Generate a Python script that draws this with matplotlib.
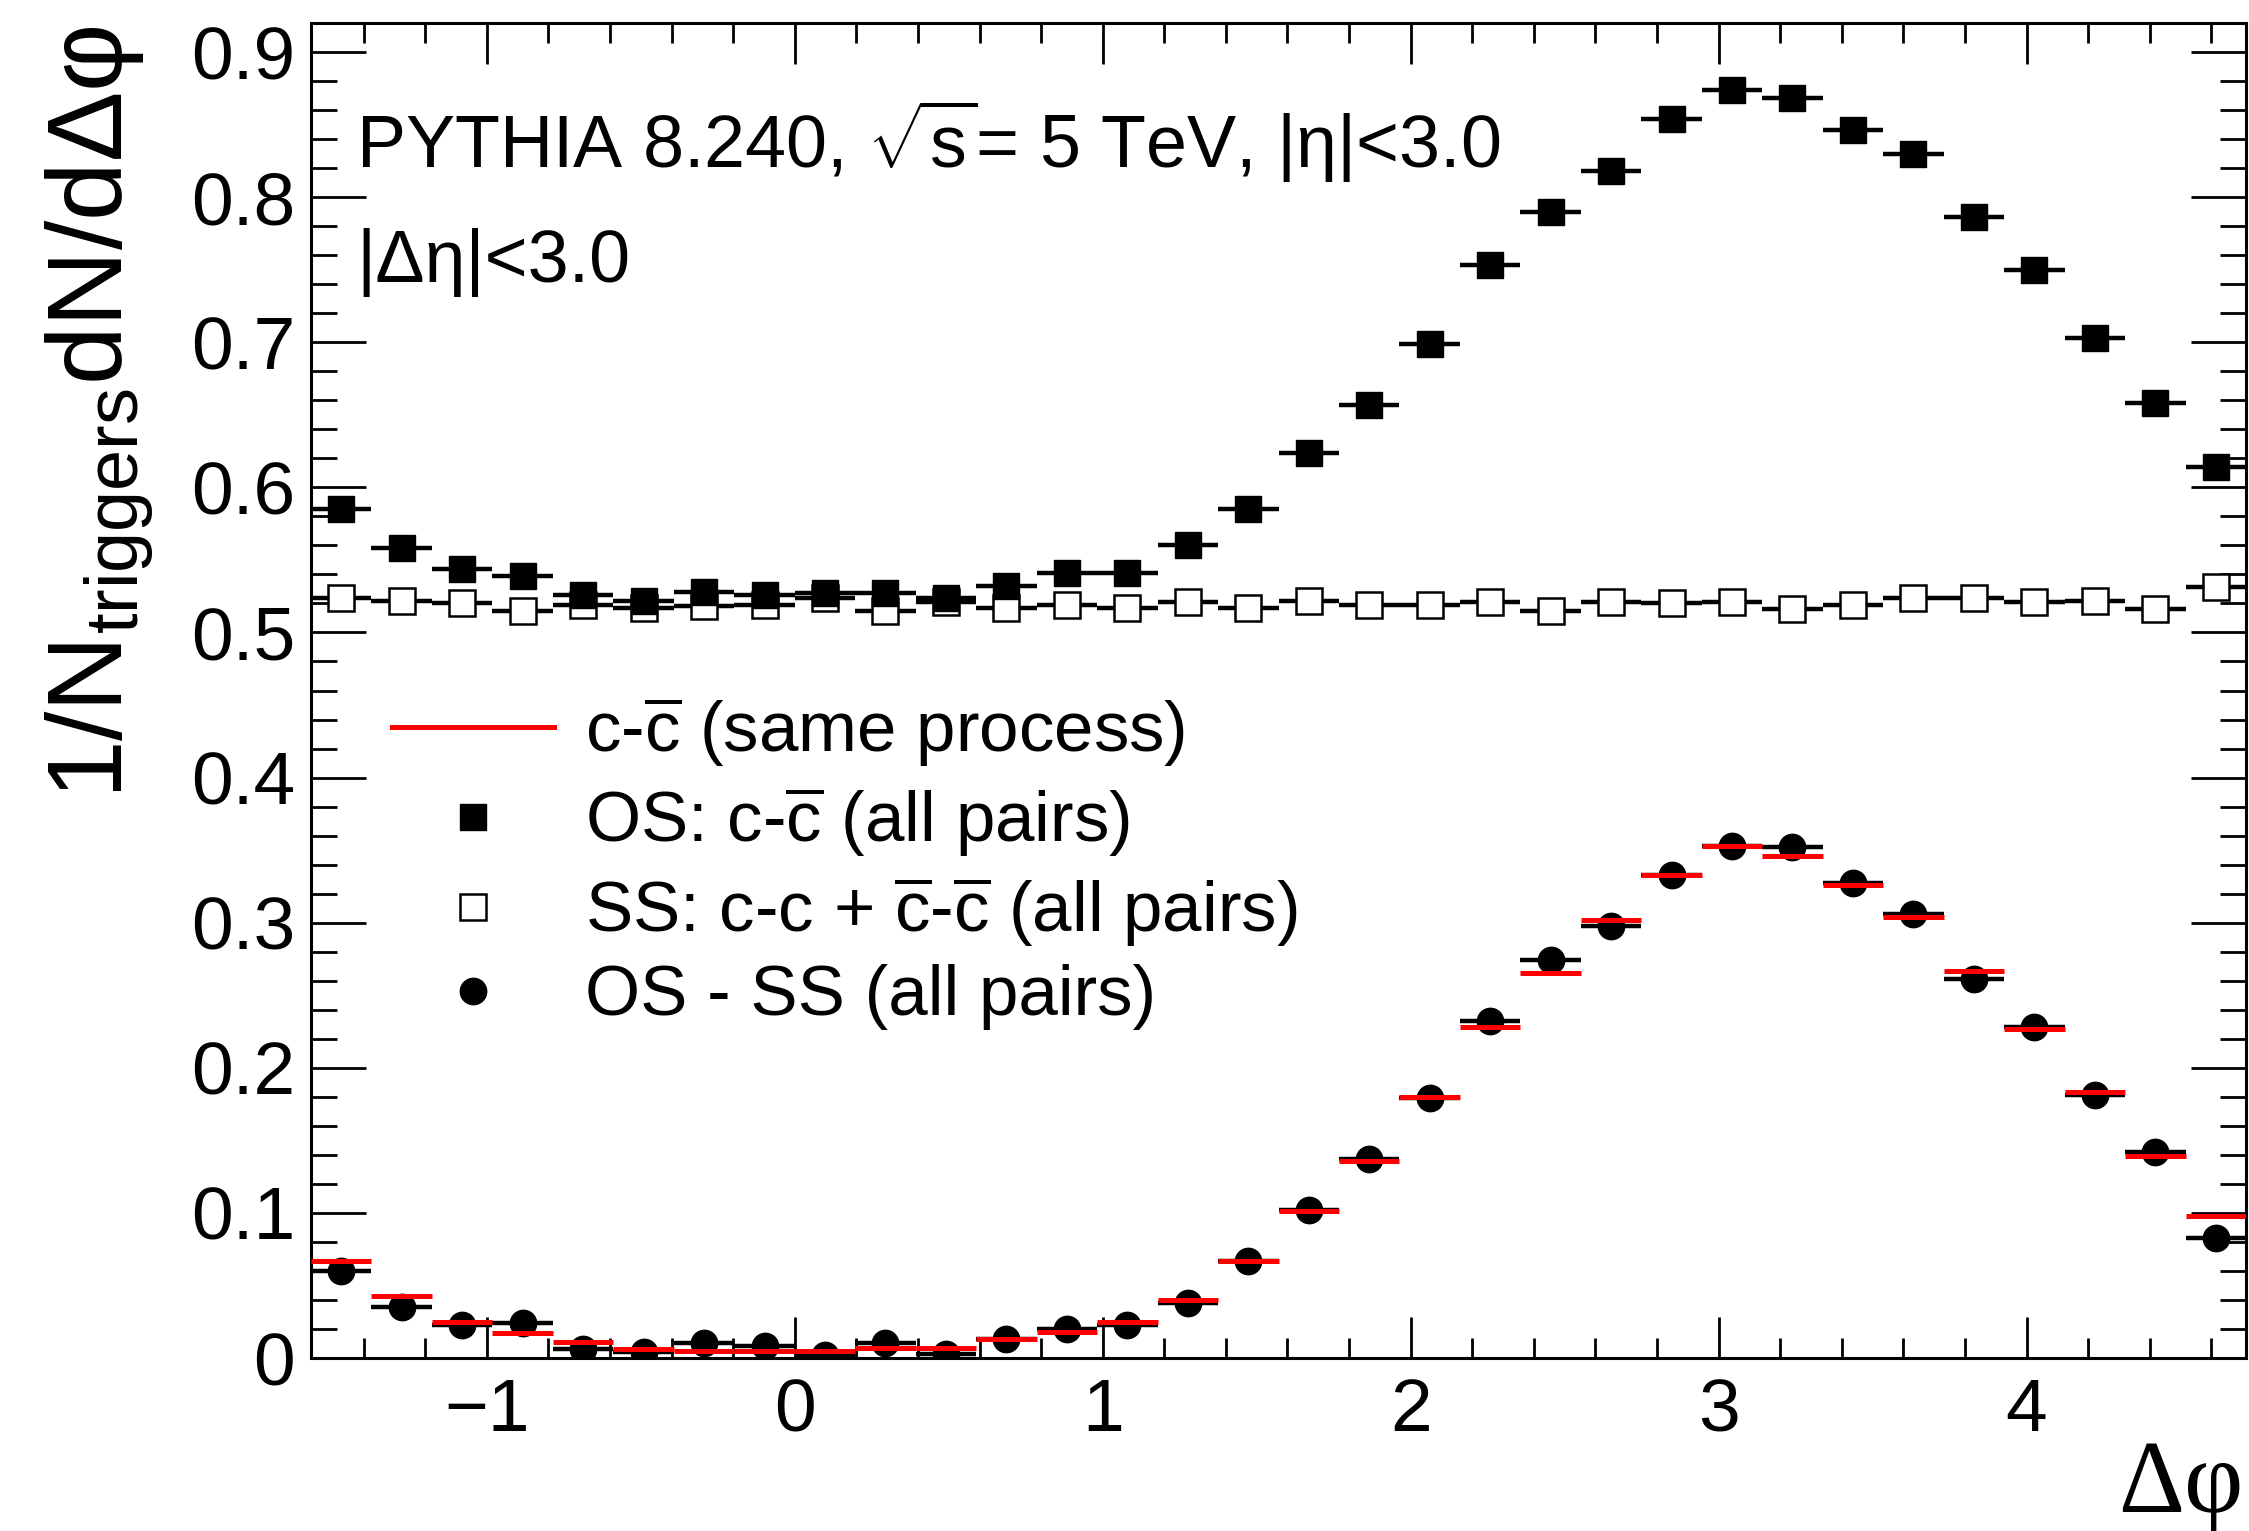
import numpy as np
import matplotlib
matplotlib.use("Agg")
import matplotlib.pyplot as plt
from matplotlib.ticker import MultipleLocator, FuncFormatter
from matplotlib.lines import Line2D

# Per-bin values in delta-phi (32 bins from -pi/2 to 3pi/2)
os_vals = [0.585, 0.558, 0.544, 0.539, 0.526, 0.522, 0.528, 0.526, 0.527, 0.527,
           0.524, 0.532, 0.541, 0.541, 0.560, 0.585, 0.624, 0.657, 0.699, 0.753,
           0.790, 0.818, 0.854, 0.874, 0.868, 0.846, 0.830, 0.786, 0.750, 0.703,
           0.658, 0.614]
ss_vals = [0.524, 0.522, 0.520, 0.515, 0.519, 0.517, 0.518, 0.519, 0.524, 0.515,
           0.521, 0.517, 0.519, 0.517, 0.521, 0.517, 0.522, 0.519, 0.519, 0.521,
           0.515, 0.521, 0.520, 0.521, 0.516, 0.519, 0.524, 0.524, 0.521, 0.522,
           0.516, 0.531]
diff_vals = [0.060, 0.035, 0.023, 0.024, 0.006, 0.004, 0.010, 0.008, 0.002, 0.010,
             0.003, 0.013, 0.020, 0.023, 0.038, 0.067, 0.102, 0.137, 0.179, 0.232,
             0.274, 0.298, 0.333, 0.353, 0.352, 0.327, 0.306, 0.261, 0.228, 0.181,
             0.142, 0.083]
same_proc = [0.067, 0.043, 0.025, 0.017, 0.011, 0.006, 0.005, 0.005, 0.005, 0.007,
             0.007, 0.013, 0.018, 0.025, 0.040, 0.067, 0.101, 0.136, 0.180, 0.228,
             0.265, 0.302, 0.333, 0.353, 0.346, 0.326, 0.304, 0.267, 0.227, 0.183,
             0.139, 0.098]

legend_labels = [r"c-$\overline{\mathrm{c}}$ (same process)",
                 r"OS: c-$\overline{\mathrm{c}}$ (all pairs)",
                 r"SS: c-c + $\overline{\mathrm{c}}$-$\overline{\mathrm{c}}$ (all pairs)",
                 "OS - SS (all pairs)"]

plt.rcParams["font.family"] = ["Liberation Sans", "DejaVu Sans"]
plt.rcParams["mathtext.fontset"] = "custom"
plt.rcParams["mathtext.rm"] = "Liberation Sans"
plt.rcParams["mathtext.it"] = "Liberation Sans:italic"
plt.rcParams["mathtext.bf"] = "Liberation Sans:bold"

W, H = 2249, 1531
fig = plt.figure(figsize=(W / 100, H / 100), dpi=100)


def fx(px):
    return px / W


def fy(py):
    return 1 - py / H


ax = fig.add_axes([fx(311), fy(1358), fx(2246) - fx(311), fy(23) - fy(1358)])

edges = np.linspace(-np.pi / 2, 1.5 * np.pi, len(os_vals) + 1)
centers = 0.5 * (edges[:-1] + edges[1:])
half = 0.5 * np.diff(edges)

bar_lw = 3.2
sq_ms, open_ms, circ_ms = 19, 18.5, 19
ax.errorbar(centers, ss_vals, xerr=half, fmt="s", ms=open_ms, mfc="white", mec="black",
            mew=1.8, ecolor="black", elinewidth=bar_lw, capsize=0, zorder=3)
ax.errorbar(centers, os_vals, xerr=half, fmt="s", ms=sq_ms, color="black",
            elinewidth=bar_lw, capsize=0, zorder=4)
ax.errorbar(centers, diff_vals, xerr=half, fmt="o", ms=circ_ms, color="black",
            elinewidth=bar_lw, capsize=0, zorder=4)
ax.hlines(same_proc, edges[:-1], edges[1:], colors="red", lw=3.6, zorder=6)

ax.set_xlim(edges[0], edges[-1])
ax.set_ylim(0, 0.92)

ax.xaxis.set_major_locator(MultipleLocator(1))
ax.xaxis.set_minor_locator(MultipleLocator(0.2))
ax.yaxis.set_major_locator(MultipleLocator(0.1))
ax.yaxis.set_minor_locator(MultipleLocator(0.02))
ax.yaxis.set_major_formatter(FuncFormatter(lambda v, p: "0" if abs(v) < 1e-9 else f"{v:.1f}"))
ax.xaxis.set_major_formatter(FuncFormatter(lambda v, p: f"{v:.0f}".replace("-", "\u2212")))

for s in ax.spines.values():
    s.set_linewidth(2.2)
ax.tick_params(which="both", direction="in", top=True, right=True, width=2,
               labelsize=54)
ax.tick_params(axis="x", which="major", length=29.5, pad=14)
ax.tick_params(axis="x", which="minor", length=14.5)
ax.tick_params(axis="y", which="major", length=39.6, pad=11.5)
ax.tick_params(axis="y", which="minor", length=19)

fig.text(fx(356), fy(168), r"PYTHIA 8.240, $\sqrt{\mathrm{s}}$= 5 TeV, |η|<3.0",
         fontsize=53, ha="left", va="baseline")
fig.text(fx(356), fy(282), "|Δη|<3.0", fontsize=53, ha="left", va="baseline")

handles = [
    Line2D([], [], color="red", lw=3.6),
    Line2D([], [], ls="none", marker="s", ms=sq_ms, color="black"),
    Line2D([], [], ls="none", marker="s", ms=open_ms, mfc="white", mec="black", mew=1.8),
    Line2D([], [], ls="none", marker="o", ms=circ_ms, color="black"),
]
ax.legend(handles, legend_labels, loc="upper left",
          bbox_to_anchor=(fx(392), fy(694)), bbox_transform=fig.transFigure,
          frameon=False, fontsize=51, handlelength=2.28, handletextpad=0.45,
          labelspacing=0.22, borderpad=0, borderaxespad=0)

fig.text(fx(100), fy(25), r"$\mathrm{1/N_{triggers}dN/d\Delta\varphi}$",
         rotation=90, fontsize=76, ha="center", va="top")
fig.text(fx(2243), fy(1512), "Δφ", fontsize=74, family="Liberation Serif",
         ha="right", va="baseline")

fig.savefig("out.png", dpi=100)
